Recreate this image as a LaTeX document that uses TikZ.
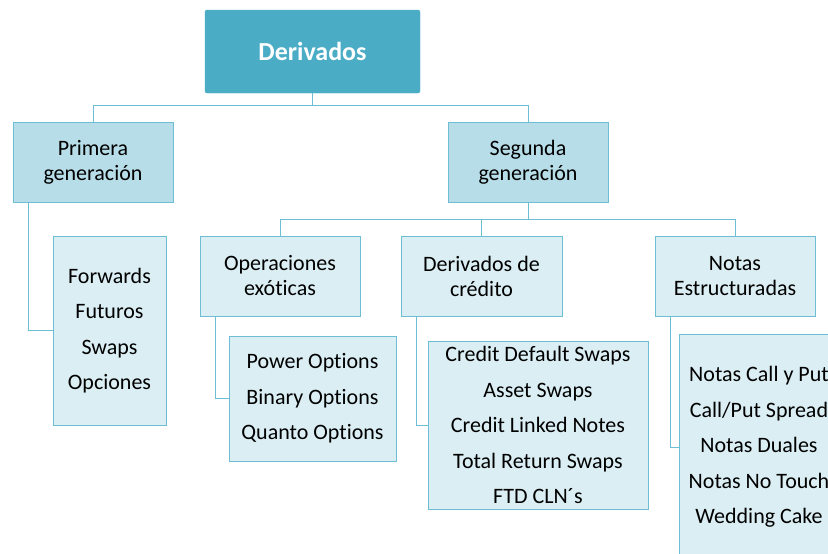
\documentclass[tikz,border=0pt]{standalone}
\usepackage{fontspec}
\setmainfont{Carlito}[Ligatures=NoCommon]
\definecolor{aqua}{HTML}{4BACC6}
\definecolor{aqualight}{HTML}{B7DEE8}
\definecolor{aquapale}{HTML}{DAEEF3}
\definecolor{aqualine}{HTML}{6DBDD3}
\tikzset{
	topbox/.style={draw=aqua, fill=aqua, rounded corners=2pt, inner sep=0pt, text=white, font=\fontsize{26}{30}\selectfont\bfseries},
	genbox/.style={draw=aqualine, fill=aqualight, line width=1pt, inner sep=0pt, align=center, font=\fontsize{22}{25}\selectfont},
	catbox/.style={draw=aqualine, fill=aquapale, line width=1pt, inner sep=0pt, align=center, font=\fontsize{22}{25}\selectfont},
	listbox/.style={draw=aqualine, fill=aquapale, line width=1pt, inner sep=0pt, align=center, font=\fontsize{22}{35.5}\selectfont},
	link/.style={draw=aqualine, line width=1pt}
}
\begin{document}
\begin{tikzpicture}[x=1pt, y=-1pt]
		\useasboundingbox (0,0) rectangle (828,554);
		\clip (0,0) rectangle (828,554);
		%top
		\node[topbox, minimum width=215pt, minimum height=83pt] (deriv) at (312.5, 51.5) {Derivados};
		
		%generations
		\node[genbox, minimum width=160pt, minimum height=80pt] (prim) at (93, 162) {Primera\\generación};
		\node[genbox, minimum width=160pt, minimum height=80pt] (seg) at (528, 162) {Segunda\\generación};
		
		%second generation branches
		\node[catbox, minimum width=160pt, minimum height=80pt] (exot) at (280, 276) {Operaciones\\exóticas};
		\node[catbox, minimum width=161pt, minimum height=80pt] (cred) at (481.5, 276) {Derivados de\\crédito};
		\node[catbox, minimum width=160pt, minimum height=80pt] (notas) at (735, 276) {Notas\\Estructuradas};
		
		%lists
		\node[listbox, minimum width=113pt, minimum height=189pt] (listprim) at (109.5, 330.5) {Forwards\\Futuros\\Swaps\\Opciones};
		\node[listbox, minimum width=167pt, minimum height=125pt] (listexot) at (312.5, 398.5) {Power Options\\Binary Options\\Quanto Options};
		\node[listbox, minimum width=220pt, minimum height=168pt] (listcred) at (538, 425) {Credit Default Swaps\\Asset Swaps\\Credit Linked Notes\\Total Return Swaps\\FTD CLN´s};
		\node[listbox, minimum width=160pt, minimum height=226pt] (listnotas) at (759, 447) {Notas Call y Put\\Call/Put Spread\\Notas Duales\\Notas No Touch\\Wedding Cake};
		
		%connectors
		\foreach \n in {prim, seg}{
			\draw[link] (deriv.south) -- ++(0,12) -| (\n.north);
		}
		\foreach \n in {exot, cred, notas}{
			\draw[link] (seg.south) -- ++(0,17) -| (\n.north);
		}
		\foreach \a/\b in {prim/listprim, exot/listexot, cred/listcred, notas/listnotas}{
			\draw[link] ([xshift=16pt]\a.south west) |- (\b.west);
		}
		\end{tikzpicture}
\end{document}
